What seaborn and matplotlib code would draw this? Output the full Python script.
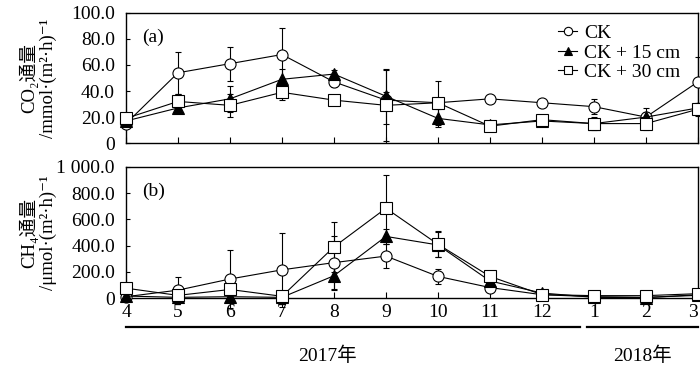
import numpy as np
import pandas as pd
import matplotlib
matplotlib.use("Agg")
import matplotlib.pyplot as plt
import seaborn as sns

# months (Apr 2017 .. Mar 2018)
months = ["4", "5", "6", "7", "8", "9", "10", "11", "12", "1", "2", "3"]
groups = ["CK", "CK + 15 cm", "CK + 30 cm"]

# CO2 flux, mmol/(m2 h)
co2_ck = [15, 54, 61, 68, 47, 33, 31, 34, 31, 28, 20, 47]
co2_15 = [17, 27, 34, 49, 53, 36, 19, 14, 17, 15, 20, 27]
co2_30 = [19, 32, 29, 39, 33, 29, 31, 13, 18, 15, 15, 26]
co2_ck_err = [3, 16, 13, 20, 4, 6, 3, 2, 2, 6, 7, 19]
co2_15_err = [3, 3, 10, 8, 3, 21, 7, 3, 2, 5, 4, 4]
co2_30_err = [3, 6, 9, 6, 3, 27, 17, 4, 2, 3, 5, 5]

# CH4 flux, umol/(m2 h)
ch4_ck = [10, 60, 145, 215, 270, 320, 165, 80, 25, 10, 5, 20]
ch4_15 = [15, 5, 10, 5, 170, 470, 405, 130, 38, 5, 3, 25]
ch4_30 = [75, 20, 65, 13, 390, 685, 410, 165, 26, 18, 18, 33]
ch4_ck_err = [10, 100, 220, 280, 200, 90, 60, 20, 10, 5, 5, 10]
ch4_15_err = [10, 5, 10, 5, 110, 60, 95, 20, 10, 5, 5, 5]
ch4_30_err = [20, 10, 20, 10, 190, 255, 100, 30, 10, 5, 5, 10]

plt.rcParams["font.family"] = ["Liberation Serif", "DejaVu Serif", "Noto Sans CJK SC"]

styles = {"CK": ("o", "white"), "CK + 15 cm": ("^", "black"), "CK + 30 cm": ("s", "white")}

fig = plt.figure(figsize=(7, 3.67), dpi=100)
ax1 = fig.add_axes([0.18, 0.61, 0.817, 0.355])
ax2 = fig.add_axes([0.18, 0.188, 0.817, 0.357])

x = np.arange(len(months))


def draw(ax, vals, errs):
    for g, v, e in zip(groups, vals, errs):
        mk, fc = styles[g]
        ax.errorbar(x, v, yerr=e, fmt="none", ecolor="black", elinewidth=0.8,
                    capsize=2, capthick=0.8, clip_on=False, zorder=2)
        df = pd.DataFrame({"x": x, "y": v})
        sns.lineplot(data=df, x="x", y="y", ax=ax, color="black", lw=0.8,
                     marker=mk, markersize=8, markerfacecolor=fc,
                     markeredgecolor="black", markeredgewidth=0.8,
                     clip_on=False, label=g, zorder=3)


draw(ax1, [co2_ck, co2_15, co2_30], [co2_ck_err, co2_15_err, co2_30_err])
draw(ax2, [ch4_ck, ch4_15, ch4_30], [ch4_ck_err, ch4_15_err, ch4_30_err])

for ax in (ax1, ax2):
    ax.set_xlim(0, 11)
    ax.set_xticks(x)
    ax.tick_params(axis="x", direction="in", length=4, width=0.8)
    ax.tick_params(axis="y", direction="in", length=3, width=0.8, labelsize=14, pad=8)
    for s in ax.spines.values():
        s.set_linewidth(1.0)
    ax.set_xlabel("")

ax1.set_xticklabels([])
ax2.set_xticklabels(months, fontsize=14)
ax2.tick_params(axis="x", pad=4)
ax2.get_xticklabels()[-1].set_horizontalalignment("right")

ax1.set_ylim(0, 100)
ax1.set_yticks([0, 20, 40, 60, 80, 100])
ax1.set_yticklabels(["0", "20.0", "40.0", "60.0", "80.0", "100.0"])
ax2.set_ylim(0, 1000)
ax2.set_yticks([0, 200, 400, 600, 800, 1000])
ax2.set_yticklabels(["0", "200.0", "400.0", "600.0", "800.0", "1 000.0"])

ax1.set_ylabel("CO₂通量\n/mmol·(m²·h)⁻¹", fontsize=13.5, linespacing=1.15)
ax2.set_ylabel("CH₄通量\n/μmol·(m²·h)⁻¹", fontsize=13.5, linespacing=1.15)
ax1.yaxis.set_label_coords(-0.12, 0.5)
ax2.yaxis.set_label_coords(-0.12, 0.5)

ax1.text(0.028, 0.78, "(a)", transform=ax1.transAxes, fontsize=14)
ax2.text(0.028, 0.78, "(b)", transform=ax2.transAxes, fontsize=14)

ax1.legend(loc="upper right", bbox_to_anchor=(0.99, 1.0), frameon=False,
           fontsize=14, handlelength=1.0, handletextpad=0.35, labelspacing=0.1,
           markerscale=0.75, borderaxespad=0.2)
ax2.get_legend().remove()

# year brackets below the month labels
tr = ax2.get_xaxis_transform()
ax2.plot([0, 8.73], [-0.22, -0.22], transform=tr, color="black", lw=1.6, clip_on=False)
ax2.plot([8.87, 11], [-0.22, -0.22], transform=tr, color="black", lw=1.6, clip_on=False)
ax2.text(3.87, -0.44, "2017年", transform=tr, ha="center", va="center", fontsize=14)
ax2.text(9.94, -0.44, "2018年", transform=tr, ha="center", va="center", fontsize=14)

fig.savefig("out.png", dpi=100)
